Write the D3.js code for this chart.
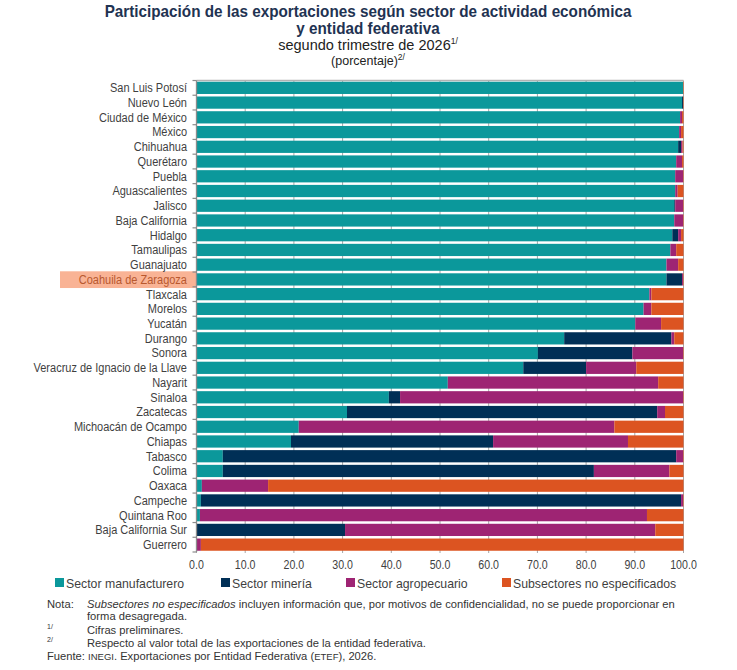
<!DOCTYPE html>
<html>
<head>
<meta charset="utf-8">
<script src="https://cdn.jsdelivr.net/npm/d3@7"></script>
<style>
  body { margin: 0; background: #fff; }
  svg text { font-family: "Liberation Sans", Arial, sans-serif; }
</style>
</head>
<body>
<div id="chart"></div>
<script>
const states = ['San Luis Potosí', 'Nuevo León', 'Ciudad de México', 'México', 'Chihuahua', 'Querétaro',
    'Puebla', 'Aguascalientes', 'Jalisco', 'Baja California', 'Hidalgo', 'Tamaulipas', 'Guanajuato',
    'Coahuila de Zaragoza', 'Tlaxcala', 'Morelos', 'Yucatán', 'Durango', 'Sonora',
    'Veracruz de Ignacio de la Llave', 'Nayarit', 'Sinaloa', 'Zacatecas', 'Michoacán de Ocampo',
    'Chiapas', 'Tabasco', 'Colima', 'Oaxaca', 'Campeche', 'Quintana Roo', 'Baja California Sur', 'Guerrero'];

const manufacturero = [99.9, 99.7, 99.3, 99.1, 98.9, 98.5, 98.3, 98.3, 98.1, 98.1, 97.7, 97.3, 96.5,
    96.5, 93.0, 91.8, 90.1, 75.5, 70.1, 67.1, 51.6, 39.5, 30.9, 21.0, 19.4, 5.4, 5.4, 1.1, 0.9, 0.7, 0.0, 0.0];
const mineria = [0.0, 0.2, 0.0, 0.0, 0.6, 0.0, 0.0, 0.0, 0.2, 0.0, 1.2, 0.0, 0.0,
    3.2, 0.0, 0.0, 0.0, 22.0, 19.4, 12.9, 0.0, 2.3, 63.7, 0.0, 41.5, 93.1, 76.2, 0.0, 98.6, 0.0, 30.5, 0.0];
const agropecuario = [0.0, 0.0, 0.4, 0.4, 0.3, 1.2, 1.6, 0.5, 1.6, 1.8, 0.6, 1.2, 2.4,
    0.2, 0.4, 1.6, 5.3, 0.6, 10.4, 10.3, 43.2, 58.1, 1.6, 64.8, 27.7, 1.4, 15.5, 13.6, 0.4, 91.8, 63.7, 0.9];
const noEspecificados = [0.1, 0.1, 0.3, 0.5, 0.2, 0.3, 0.1, 1.2, 0.1, 0.1, 0.5, 1.5, 1.1,
    0.1, 6.6, 6.6, 4.6, 1.9, 0.1, 9.7, 5.2, 0.1, 3.8, 14.2, 11.4, 0.1, 2.9, 85.3, 0.1, 7.5, 5.8, 99.1];

const seriesNames = ['Sector manufacturero', 'Sector minería', 'Sector agropecuario', 'Subsectores no especificados'];
const seriesColors = ['#0b989b', '#002f56', '#9e2473', '#dc5421'];
const xTicks = [0, 10, 20, 30, 40, 50, 60, 70, 80, 90, 100];
const highlighted = 'Coahuila de Zaragoza';

const width = 737, height = 670;
const plot = {left: 196.5, right: 683.5, top: 80.5, bottom: 552};
const textGrey = '#3f3f3f';
const titleColor = '#1f3352';

// squeeze glyphs horizontally, the original uses a narrow face
function condense(sel, k) {
    sel.each(function() {
        const len = this.getComputedTextLength();
        d3.select(this).attr('textLength', len * k).attr('lengthAdjust', 'spacingAndGlyphs');
    });
}

const svg = d3.select('#chart')
    .append('svg')
    .attr('width', width)
    .attr('height', height);

// title block
const title = svg.append('g').attr('text-anchor', 'middle').attr('fill', titleColor);
title.append('text').attr('x', 368).attr('y', 17)
    .attr('font-size', 16.5).attr('font-weight', 'bold')
    .text('Participación de las exportaciones según sector de actividad económica')
    .call(condense, 0.925);
title.append('text').attr('x', 368).attr('y', 34)
    .attr('font-size', 16.5).attr('font-weight', 'bold')
    .text('y entidad federativa')
    .call(condense, 0.925);
const sub = title.append('text').attr('x', 368).attr('y', 50).attr('font-size', 14.5).attr('fill', '#222');
sub.append('tspan').text('segundo trimestre de 2026');
sub.append('tspan').attr('font-size', 8.5).attr('dy', -6).text('1/');
const unit = title.append('text').attr('x', 368).attr('y', 65).attr('font-size', 12.5).attr('fill', '#222');
unit.append('tspan').text('(porcentaje)');
unit.append('tspan').attr('font-size', 8.5).attr('dy', -5).text('2/');

// scales
const x = d3.scaleLinear().domain([0, 100]).range([plot.left, plot.right]);
const y = d3.scaleBand().domain(states).range([plot.top, plot.bottom]).paddingInner(0.17).paddingOuter(0.085);

const rows = states.map((s, i) => ({
    state: s,
    [seriesNames[0]]: manufacturero[i],
    [seriesNames[1]]: mineria[i],
    [seriesNames[2]]: agropecuario[i],
    [seriesNames[3]]: noEspecificados[i]
}));
const stacked = d3.stack().keys(seriesNames)(rows);

// grid lines behind bars
svg.append('g')
    .selectAll('line')
    .data(xTicks)
    .join('line')
    .attr('x1', d => x(d)).attr('x2', d => x(d))
    .attr('y1', plot.top).attr('y2', plot.bottom + 1)
    .attr('stroke', '#a6a6a6').attr('stroke-width', 1);

// top border
svg.append('line')
    .attr('x1', plot.left).attr('x2', plot.right)
    .attr('y1', plot.top).attr('y2', plot.top)
    .attr('stroke', '#b3b3b3').attr('stroke-width', 1.5);

// highlight box for Coahuila
svg.append('rect')
    .attr('x', 60).attr('width', 137)
    .attr('y', y(highlighted) - 2).attr('height', y.bandwidth() + 4.5)
    .attr('fill', '#f9b395');

// bars
svg.append('g')
    .selectAll('g')
    .data(stacked)
    .join('g')
    .attr('fill', (d, i) => seriesColors[i])
    .selectAll('rect')
    .data(d => d)
    .join('rect')
    .attr('x', d => x(d[0]))
    .attr('width', d => Math.max(0, x(d[1]) - x(d[0])))
    .attr('y', d => y(d.data.state))
    .attr('height', y.bandwidth());

// left axis with ticks at band boundaries
const bounds = d3.range(states.length + 1).map(i => plot.top + i * (plot.bottom - plot.top) / states.length);
svg.append('line')
    .attr('x1', plot.left).attr('x2', plot.left)
    .attr('y1', plot.top).attr('y2', plot.bottom)
    .attr('stroke', '#8c8c8c').attr('stroke-width', 1.3);
svg.append('g')
    .selectAll('line')
    .data(bounds)
    .join('line')
    .attr('x1', plot.left - 4).attr('x2', plot.left)
    .attr('y1', d => d).attr('y2', d => d)
    .attr('stroke', '#8c8c8c').attr('stroke-width', 1.2);

// category labels
svg.append('g')
    .selectAll('text')
    .data(states)
    .join('text')
    .attr('x', 187)
    .attr('y', d => y(d) + y.bandwidth() / 2)
    .attr('dy', '0.35em')
    .attr('text-anchor', 'end')
    .attr('font-size', 12.5)
    .attr('fill', d => d === highlighted ? '#b8582e' : textGrey)
    .text(d => d)
    .call(condense, 0.88);

// x tick labels
svg.append('g')
    .selectAll('text')
    .data(xTicks)
    .join('text')
    .attr('x', d => x(d))
    .attr('y', 569)
    .attr('text-anchor', 'middle')
    .attr('font-size', 12.5)
    .attr('fill', textGrey)
    .text(d => d3.format('.1f')(d))
    .call(condense, 0.85);

// legend
const legendX = [55, 221, 346, 502];
const legend = svg.append('g')
    .selectAll('g')
    .data(seriesNames)
    .join('g')
    .attr('transform', (d, i) => `translate(${legendX[i]}, 583)`);
legend.append('rect')
    .attr('x', 0).attr('y', -5).attr('width', 9).attr('height', 9)
    .attr('fill', (d, i) => seriesColors[i]);
legend.append('text')
    .attr('x', 11).attr('y', 0).attr('dy', '0.35em')
    .attr('font-size', 13.5).attr('fill', textGrey)
    .text(d => d)
    .call(condense, 0.91);

// notes
const notes = svg.append('g').attr('font-size', 11.2).attr('fill', '#333');
const n1 = notes.append('text').attr('x', 47).attr('y', 608);
n1.append('tspan').text('Nota:');
n1.append('tspan').attr('x', 87).attr('font-style', 'italic').text('Subsectores no especificados');
n1.append('tspan').text(' incluyen información que, por motivos de confidencialidad, no se puede proporcionar en');
notes.append('text').attr('x', 87).attr('y', 620).text('forma desagregada.');
notes.append('text').attr('x', 47).attr('y', 629).attr('font-size', 7).text('1/');
notes.append('text').attr('x', 87).attr('y', 634).text('Cifras preliminares.');
notes.append('text').attr('x', 47).attr('y', 642).attr('font-size', 7).text('2/');
notes.append('text').attr('x', 87).attr('y', 647).text('Respecto al valor total de las exportaciones de la entidad federativa.');
const src = notes.append('text').attr('x', 47).attr('y', 660);
src.append('tspan').text('Fuente: ');
src.append('tspan').attr('font-size', 9.5).text('INEGI');
src.append('tspan').text('. Exportaciones por Entidad Federativa (');
src.append('tspan').attr('font-size', 9.5).text('ETEF');
src.append('tspan').text('), 2026.');
</script>
</body>
</html>
